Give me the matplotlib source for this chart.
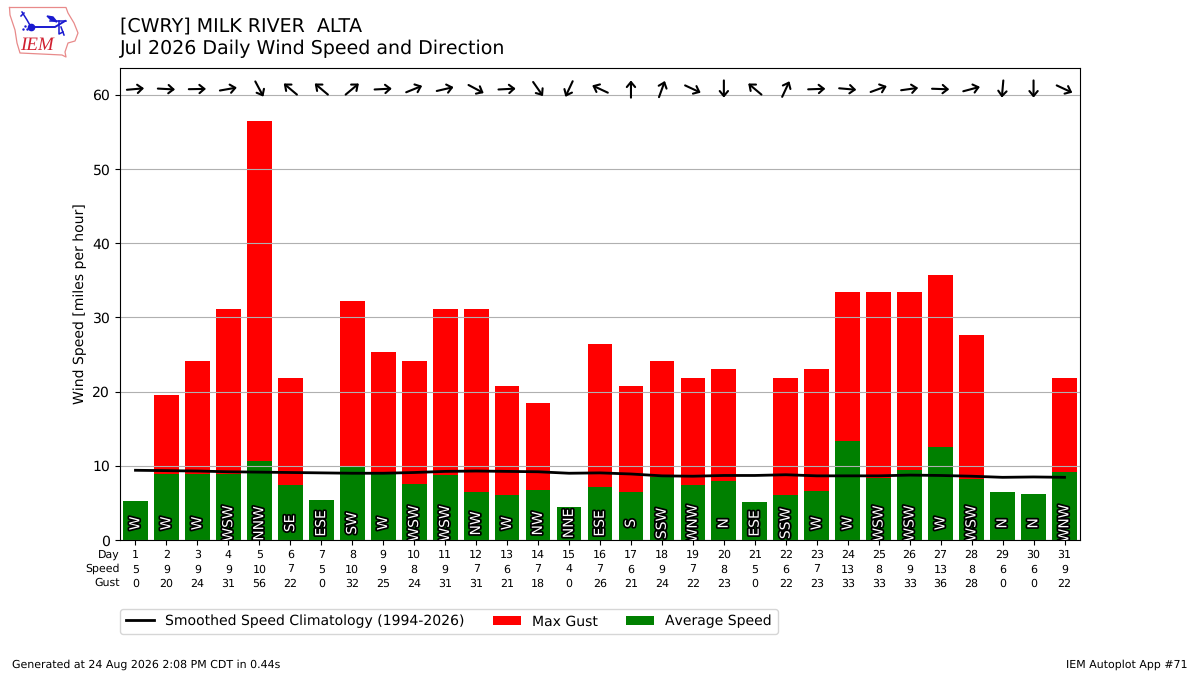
import matplotlib
matplotlib.use("Agg")
import matplotlib.pyplot as plt
import matplotlib.patheffects as pe
from matplotlib.transforms import ScaledTranslation
import numpy as np

plt.rcParams["text.hinting"] = "none"
plt.rcParams["text.hinting_factor"] = 1

days = list(range(1, 32))
avg_speed = [5.2, 8.9, 8.9, 8.9, 10.6, 7.4, 5.4, 9.8, 9.0, 7.6, 8.7, 6.5, 6.0, 6.8, 4.45, 7.15,
             6.5, 8.45, 7.4, 7.95, 5.1, 6.05, 6.6, 13.3, 8.3, 9.4, 12.5, 8.2, 6.5, 6.2, 9.2]
max_gust = [0, 19.6, 24.2, 31.1, 56.5, 21.9, 0, 32.2, 25.3, 24.2, 31.1, 31.1, 20.7, 18.5, 0, 26.4,
            20.7, 24.2, 21.9, 23.0, 0, 21.9, 23.0, 33.4, 33.4, 33.4, 35.7, 27.6, 0, 0, 21.9]
climo = [9.4, 9.35, 9.3, 9.2, 9.15, 9.1, 9.05, 9.0, 9.0, 9.1, 9.25, 9.3, 9.25, 9.2, 9.0, 9.05,
         8.9, 8.65, 8.6, 8.7, 8.7, 8.8, 8.65, 8.65, 8.65, 8.75, 8.7, 8.6, 8.45, 8.5, 8.45]
speed_labels = [5, 9, 9, 9, 10, 7, 5, 10, 9, 8, 9, 7, 6, 7, 4, 7, 6, 9, 7, 8, 5, 6, 7, 13, 8, 9, 13, 8, 6, 6, 9]
gust_labels = [0, 20, 24, 31, 56, 22, 0, 32, 25, 24, 31, 31, 21, 18, 0, 26, 21, 24, 22, 23, 0, 22, 23, 33,
               33, 33, 36, 28, 0, 0, 22]
wind_dir = [265, 273, 269, 260, 332, 130, 130, 230, 267, 248, 257, 298, 267, 325, 25, 115,
            180, 200, 295, 0, 130, 205, 268, 275, 250, 262, 272, 255, 5, 0, 295]
dir_labels = ["W", "W", "W", "WSW", "NNW", "SE", "ESE", "SW", "W", "WSW", "WSW", "NW", "W", "NW", "NNE", "ESE",
              "S", "SSW", "WNW", "N", "ESE", "SSW", "W", "W", "WSW", "WSW", "W", "WSW", "N", "N", "WNW"]

fig = plt.figure(figsize=(12, 6.75), dpi=100)
ax = fig.add_axes([0.1, 0.2, 0.8, 0.6993])

ax.bar(days, max_gust, color="r", width=0.8, label="Max Gust")
ax.bar(days, avg_speed, color="g", width=0.8, label="Average Speed")
ax.plot(days, climo, color="k", lw=2, label="Smoothed Speed Climatology (1994-2026)")
ax.grid(axis="y")

for d, wd, lbl in zip(days, wind_dir, dir_labels):
    ax.text(d, 2.25, lbl, rotation=90, ha="center", va="center", color="white", fontsize=10, zorder=4,
            clip_on=True, path_effects=[pe.withStroke(linewidth=2.5, foreground="k")])
    # arrow shows where the wind is going, centred on the point
    ang = np.radians(270 - wd)
    dx, dy = 6.2 * np.cos(ang), 6.2 * np.sin(ang)
    tip = ax.transData + ScaledTranslation(dx / 72, dy / 72, fig.dpi_scale_trans)
    ax.annotate("", xy=(d, 60.8), xycoords=tip, xytext=(-2 * dx, -2 * dy), textcoords="offset points",
                arrowprops=dict(arrowstyle="->,head_length=0.3,head_width=0.25", lw=1.5, color="k",
                                shrinkA=0, shrinkB=0, mutation_scale=12))

ax.set_xlim(0.5, 31.5)
ax.set_ylim(0, 63.64)
ax.set_yticks(range(0, 61, 10))
ax.set_ylabel("Wind Speed [miles per hour]", fontsize=10.1)
ax.set_xticks(days)
ax.set_xticklabels(["%d\n%d\n%d" % row for row in zip(days, speed_labels, gust_labels)], fontsize=8.2,
                   linespacing=1.45)

for ypx, name in zip([555, 569, 583], ["Day", "Speed", "Gust"]):
    fig.text(120 / 1200, 1 - ypx / 675, name, ha="right", va="center", fontsize=8.2)

ax.legend(loc="upper left", bbox_to_anchor=(0, -0.1465), ncol=3, borderaxespad=0, fontsize=10.13)

fig.text(0.1, 1 - 31 / 675, "[CWRY] MILK RIVER  ALTA", fontsize=14, va="baseline")
fig.text(0.1, 1 - 54 / 675, "Jul 2026 Daily Wind Speed and Direction", fontsize=14, va="baseline")
fig.text(12 / 1200, 1 - 665 / 675, "Generated at 24 Aug 2026 2:08 PM CDT in 0.44s", fontsize=8.2, va="center")
fig.text(1188 / 1200, 1 - 665 / 675, "IEM Autoplot App #71", fontsize=8.2, va="center", ha="right")

# logo, drawn in pixel space of the top left corner
logo = fig.add_axes([0, 1 - 65 / 675, 90 / 1200, 65 / 675])
logo.set_xlim(0, 90)
logo.set_ylim(65, 0)
logo.axis("off")
iowa_x = [9.5, 66, 68, 74, 78, 75, 68, 65, 66, 62, 20, 17, 15, 10, 9.5]
iowa_y = [7.5, 7.5, 13, 23, 33, 41, 43, 52, 57, 55, 53, 43, 30, 15, 7.5]
logo.plot(iowa_x, iowa_y, color="#e88a8a", lw=0.9)
blue = "#1a1ad0"
logo.plot([31, 55, 65], [27, 27, 21], color=blue, lw=1.4)
logo.plot([31], [27], "o", color=blue, ms=4.5)
logo.plot([22, 27, 31], [12, 20, 27], color=blue, lw=1.1)
logo.plot([21, 24], [16, 13], color=blue, lw=1.1)
logo.fill([47, 53, 57, 51], [16, 17, 22, 20], color=blue)
logo.plot([50, 66], [21, 21], color=blue, lw=1.1)
logo.plot([59, 59, 63], [21, 34, 32], color=blue, lw=1.1)
logo.plot([61, 64], [27, 35], color=blue, lw=1.1)
logo.plot([23, 25, 27], [29, 26, 29], ".", color=blue, ms=1.5)
logo.text(37, 45, "IEM", color="#d02030", fontsize=14, style="italic", family="Liberation Serif",
          ha="center", va="center")

fig.savefig("out.png", dpi=100)
